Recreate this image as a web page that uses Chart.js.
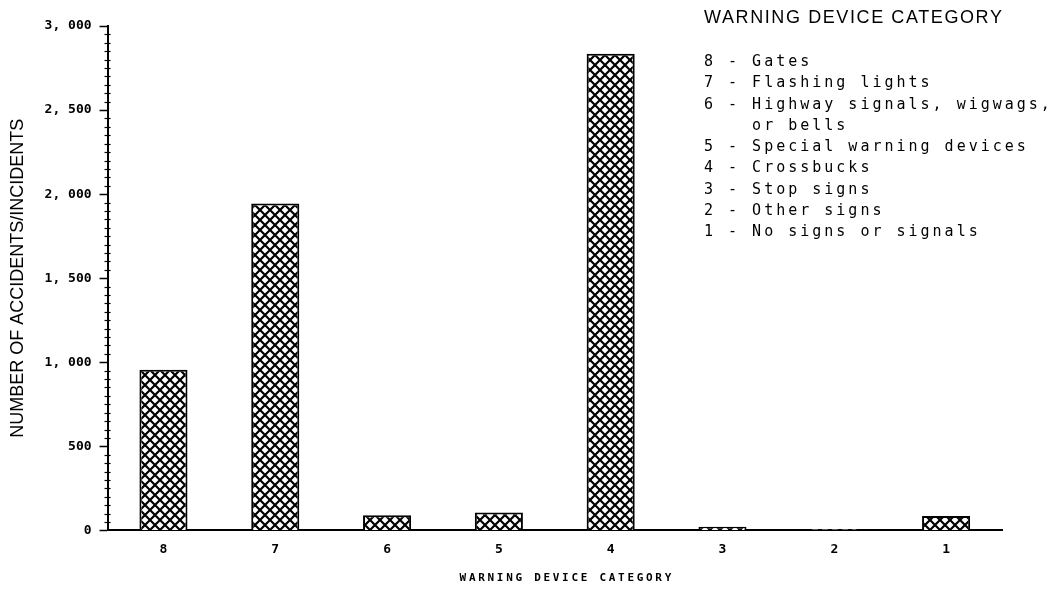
<!DOCTYPE html>
<html>
<head>
<meta charset="utf-8">
<script src="https://cdn.jsdelivr.net/npm/chart.js@4"></script>
<style>
  html, body { margin: 0; padding: 0; background: #fff; }
  #wrap { position: relative; width: 1060px; height: 592px; }
  #legend { position: absolute; left: 704px; top: 7px; color: #000; }
  #legend .title { font-family: "Liberation Sans", Arial, sans-serif; font-size: 18px; letter-spacing: 1.6px; margin-bottom: 23px; }
  #legend .item { font-family: "DejaVu Sans Mono", monospace; font-size: 15px; letter-spacing: 3px; line-height: 21.25px; white-space: pre; }
</style>
</head>
<body>
<div id="wrap">
  <canvas id="c" width="1060" height="592"></canvas>
  <div id="legend"></div>
</div>
<script>
const categories = ['8', '7', '6', '5', '4', '3', '2', '1'];
const accidents = [955, 1945, 90, 107, 2835, 22, 7, 85];
const yTickValues = [0, 500, 1000, 1500, 2000, 2500, 3000];
const yTickLabels = ['0', '500', '1, 000', '1, 500', '2, 000', '2, 500', '3, 000'];
const legendTitle = 'WARNING DEVICE CATEGORY';
const legendLines = [
  '8 - Gates',
  '7 - Flashing lights',
  '6 - Highway signals, wigwags,',
  '    or bells',
  '5 - Special warning devices',
  '4 - Crossbucks',
  '3 - Stop signs',
  '2 - Other signs',
  '1 - No signs or signals'
];
const yAxisTitle = 'NUMBER OF ACCIDENTS/INCIDENTS';
const xAxisTitle = 'WARNING DEVICE CATEGORY';

// legend (HTML text)
const lg = document.getElementById('legend');
const t = document.createElement('div'); t.className = 'title'; t.textContent = legendTitle; lg.appendChild(t);
legendLines.forEach(s => { const d = document.createElement('div'); d.className = 'item'; d.textContent = s; lg.appendChild(d); });

// crosshatch pattern
function hatch() {
  const s = 10;
  const p = document.createElement('canvas');
  p.width = s; p.height = s;
  const g = p.getContext('2d');
  g.fillStyle = '#fff'; g.fillRect(0, 0, s, s);
  g.strokeStyle = '#000'; g.lineWidth = 2.2;
  g.beginPath();
  g.moveTo(-1, -1); g.lineTo(s + 1, s + 1);
  g.moveTo(-1, s + 1); g.lineTo(s + 1, -1);
  g.stroke();
  return p;
}
const ctx = document.getElementById('c').getContext('2d');
const pattern = ctx.createPattern(hatch(), 'repeat');

const extras = {
  id: 'extras',
  afterDraw(chart) {
    const y = chart.scales.y, area = chart.chartArea, c = chart.ctx;
    const x0 = area.left;
    c.save();
    // minor ticks on y axis
    c.strokeStyle = '#000'; c.lineWidth = 1.2;
    for (let v = 0; v <= 3000; v += 50) {
      if (v % 500 === 0) continue;
      const py = Math.round(y.getPixelForValue(v)) + 0.5;
      c.beginPath(); c.moveTo(x0 - 3, py); c.lineTo(x0 + 3, py); c.stroke();
    }
    // x axis title with letter spacing
    c.fillStyle = '#000';
    c.font = 'bold 11px "DejaVu Sans Mono"';
    c.letterSpacing = '2.7px';
    c.textAlign = 'center';
    c.textBaseline = 'middle';
    c.fillText(xAxisTitle, (area.left + area.right) / 2 + 12, area.bottom + 48);
    c.restore();
  }
};

new Chart(ctx, {
  type: 'bar',
  data: {
    labels: categories,
    datasets: [{
      data: accidents,
      backgroundColor: pattern,
      borderColor: '#000',
      borderWidth: 2,
      borderSkipped: 'bottom',
      barPercentage: 0.43,
      categoryPercentage: 1.0
    }]
  },
  options: {
    responsive: false,
    animation: false,
    layout: { padding: { top: 26, right: 58, bottom: 24, left: 0 } },
    plugins: { legend: { display: false }, tooltip: { enabled: false } },
    scales: {
      x: {
        offset: true,
        grid: { display: false, drawTicks: false },
        border: { display: true, color: '#000', width: 2 },
        ticks: { color: '#000', font: { family: 'DejaVu Sans Mono', weight: 'bold', size: 13 }, padding: 11 }
      },
      y: {
        min: 0, max: 3000,
        afterBuildTicks(scale) { scale.ticks = yTickValues.map(v => ({ value: v })); },
        grid: { display: true, drawOnChartArea: false, color: '#000', tickLength: 8, tickWidth: 1.5 },
        border: { display: true, color: '#000', width: 2 },
        ticks: {
          color: '#000', padding: 8,
          font: { family: 'DejaVu Sans Mono', weight: 'bold', size: 13 },
          callback: (v) => { const i = yTickValues.indexOf(v); return i >= 0 ? yTickLabels[i] : ''; }
        },
        title: { display: true, text: yAxisTitle, color: '#000', font: { family: 'Liberation Sans', size: 18 }, padding: { top: 7, bottom: 8 } }
      }
    }
  },
  plugins: [extras]
});
</script>
</body>
</html>
